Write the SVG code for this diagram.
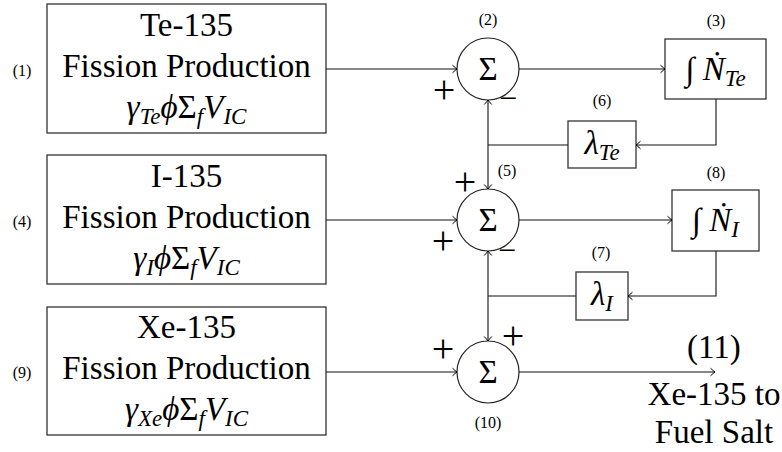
<svg xmlns="http://www.w3.org/2000/svg" width="782" height="452" viewBox="0 0 782 452">
<defs>
<marker id="arr" viewBox="-6 -5 8 10" refX="0" refY="0" markerWidth="8" markerHeight="10" markerUnits="userSpaceOnUse" orient="auto">
<path d="M-4.5,-3.8 Q-1.5,-1 0,0 Q-1.5,1 -4.5,3.8" fill="none" stroke="#000" stroke-width="1"/>
</marker>
</defs>
<style>
text{font-family:"Liberation Serif","Times New Roman",serif;fill:#000;text-anchor:middle}
.box{fill:#fff;stroke:#333;stroke-width:1.3}
.sum{fill:#fff;stroke:#222;stroke-width:1.2}
.big{font-size:33px}
.lbl{font-size:16px}
.it{font-style:italic}
.sub{font-size:23px;font-style:italic}
.sgn{font-size:40px}
.mns{font-size:32px}
.wire{fill:none;stroke:#111;stroke-width:1.1}
.ar{marker-end:url(#arr)}
</style>
<rect width="782" height="452" fill="#fff"/>

<g id="n1">
<rect class="box" x="47" y="4" width="279" height="129"/>
<text class="big" x="186.5" y="36">Te-135</text>
<text class="big" x="186.5" y="77">Fission Production</text>
<text class="big" x="186.5" y="118"><tspan class="it">γ</tspan><tspan class="sub" dy="6">Te</tspan><tspan class="it" dy="-6">ϕ</tspan>Σ<tspan class="sub" dy="6">f</tspan><tspan class="it" dy="-6">V</tspan><tspan class="sub" dy="6">IC</tspan></text>
<text class="lbl" x="22" y="76">(1)</text>
</g>

<g id="n4">
<rect class="box" x="47" y="155" width="279" height="129"/>
<text class="big" x="186.5" y="187">I-135</text>
<text class="big" x="186.5" y="228">Fission Production</text>
<text class="big" x="186.5" y="269"><tspan class="it">γ</tspan><tspan class="sub" dy="6">I</tspan><tspan class="it" dy="-6">ϕ</tspan>Σ<tspan class="sub" dy="6">f</tspan><tspan class="it" dy="-6">V</tspan><tspan class="sub" dy="6">IC</tspan></text>
<text class="lbl" x="22" y="227">(4)</text>
</g>

<g id="n9">
<rect class="box" x="47" y="307" width="279" height="128"/>
<text class="big" x="186.5" y="338">Xe-135</text>
<text class="big" x="186.5" y="379">Fission Production</text>
<text class="big" x="186.5" y="420"><tspan class="it">γ</tspan><tspan class="sub" dy="6">Xe</tspan><tspan class="it" dy="-6">ϕ</tspan>Σ<tspan class="sub" dy="6">f</tspan><tspan class="it" dy="-6">V</tspan><tspan class="sub" dy="6">IC</tspan></text>
<text class="lbl" x="22" y="378">(9)</text>
</g>

<g id="n2">
<circle class="sum" cx="488" cy="69" r="31"/>
<text class="big" x="488" y="80">Σ</text>
<text class="lbl" x="488" y="25">(2)</text>
<text class="sgn" x="444" y="103">+</text>
<text class="mns" x="508" y="109">−</text>
</g>

<g id="n3">
<rect class="box" x="665" y="39" width="101" height="60"/>
<text class="big" x="715.5" y="80">∫ <tspan class="it">Ṅ</tspan><tspan class="sub" dy="6">Te</tspan></text>
<text class="lbl" x="716" y="26">(3)</text>
</g>

<g id="n6">
<rect class="box" x="568" y="121" width="68" height="47"/>
<text class="big" x="602" y="154"><tspan class="it">λ</tspan><tspan class="sub" dy="6">Te</tspan></text>
<text class="lbl" x="602" y="106">(6)</text>
</g>

<g id="n5">
<circle class="sum" cx="488" cy="220" r="31"/>
<text class="big" x="488" y="231">Σ</text>
<text class="lbl" x="507" y="176">(5)</text>
<text class="sgn" x="465" y="195">+</text>
<text class="sgn" x="443" y="254">+</text>
<text class="mns" x="507" y="261">−</text>
</g>

<g id="n8">
<rect class="box" x="672" y="190" width="87" height="61"/>
<text class="big" x="715.5" y="231">∫ <tspan class="it">Ṅ</tspan><tspan class="sub" dy="6">I</tspan></text>
<text class="lbl" x="716" y="178">(8)</text>
</g>

<g id="n7">
<rect class="box" x="576" y="272" width="52" height="48"/>
<text class="big" x="602" y="305"><tspan class="it">λ</tspan><tspan class="sub" dy="6">I</tspan></text>
<text class="lbl" x="601" y="258">(7)</text>
</g>

<g id="n10">
<circle class="sum" cx="488" cy="372" r="31"/>
<text class="big" x="488" y="383">Σ</text>
<text class="lbl" x="488" y="428">(10)</text>
<text class="sgn" x="513" y="349">+</text>
<text class="sgn" x="443" y="362">+</text>
</g>

<g id="n11">
<text class="big" x="714" y="358">(11)</text>
<text class="big" x="714" y="405">Xe-135 to</text>
<text class="big" x="714" y="443">Fuel Salt</text>
</g>

<g id="connectors">
<path class="wire ar" d="M326 69 H457"/>
<path class="wire ar" d="M326 220 H457"/>
<path class="wire ar" d="M326 372 H457"/>
<path class="wire ar" d="M519 69 H665"/>
<path class="wire ar" d="M519 220 H672"/>
<path class="wire ar" d="M519 372 H715"/>
<path class="wire ar" d="M716 99 V145 H636"/>
<path class="wire ar" d="M716 251 V296 H628"/>
<path class="wire" d="M568 145 H488"/>
<path class="wire ar" d="M488 145 V100"/>
<path class="wire ar" d="M488 145 V189"/>
<path class="wire" d="M576 296 H488"/>
<path class="wire ar" d="M488 296 V251"/>
<path class="wire ar" d="M488 296 V341"/>
</g>
</svg>
